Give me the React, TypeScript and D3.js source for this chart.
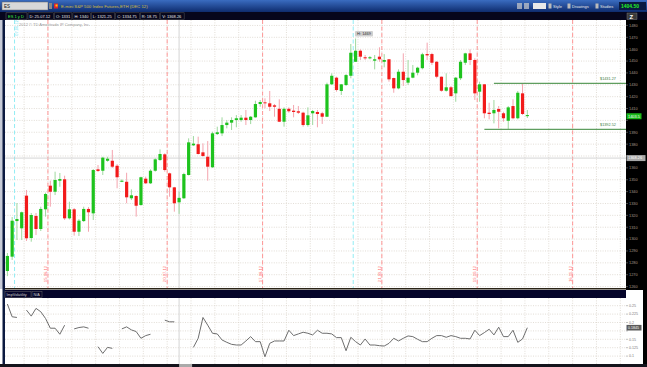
import * as d3 from "d3";
import React from "react";

// ES daily candles, Jun 5 2012 onwards (one slot per weekday)
const startDay = "2012-06-05";
const slotCount = 130;

const opens = [1273.1, 1285.2, 1315.2, 1309.1, 1336.6, 1300.9, 1319.5, 1308.5, 1325.1, 1345.0,
  1339.9, 1349.2, 1350.4, 1317.5, 1325.1, 1306.2, 1315.2, 1325.4, 1321.7, 1358.8,
  1357.6, 1366.0, 1366.0, 1361.8, 1348.3, 1348.3, 1334.4, 1336.3, 1328.7, 1350.9,
  1347.0, 1357.6, 1366.6, 1371.4, 1355.4, 1343.6, 1331.0, 1334.4, 1354.0, 1379.0,
  1379.9, 1373.1, 1369.4, 1360.5, 1388.5, 1389.1, 1396.1, 1398.1, 1400.3, 1400.3,
  1402.3, 1400.3, 1402.6, 1413.8, 1415.2, 1414.4, 1412.7, 1409.8, 1398.9, 1409.8,
  1408.2, 1407.7, 1406.5, 1396.1, 1406.0, 1407.1, 1406.0, 1403.1, 1430.4, 1436.0,
  1424.8, 1429.8, 1437.6, 1449.4, 1458.7, 1453.2, 1452.3, 1450.3, 1453.7, 1449.4,
  1451.5, 1435.7, 1427.0, 1441.0, 1431.8, 1436.0, 1440.2, 1444.0, 1455.9, 1455.9,
  1449.4, 1436.8, 1425.0, 1427.9, 1422.8, 1435.5, 1448.6, 1456.5, 1450.9, 1424.2,
  1430.4, 1406.5, 1406.0, 1409.6, 1406.0, 1399.7, 1412.1, 1401.8, 1422.8, 1403.6];

const highs = [1288.3, 1318.6, 1330.4, 1323.2, 1341.4, 1322.0, 1322.0, 1327.3, 1339.1, 1349.2,
  1356.8, 1355.7, 1353.4, 1331.5, 1326.2, 1316.9, 1327.3, 1327.0, 1359.0, 1362.4,
  1369.4, 1369.4, 1375.1, 1363.2, 1350.4, 1355.9, 1341.9, 1337.0, 1352.6, 1352.6,
  1358.8, 1368.1, 1375.6, 1372.3, 1356.0, 1344.0, 1340.0, 1355.9, 1384.9, 1386.8,
  1386.3, 1380.7, 1382.6, 1390.5, 1394.7, 1402.6, 1400.3, 1402.6, 1404.5, 1404.5,
  1408.8, 1403.7, 1416.6, 1417.2, 1418.6, 1424.8, 1413.8, 1417.8, 1411.0, 1411.0,
  1413.0, 1412.1, 1407.3, 1411.0, 1408.8, 1408.8, 1407.3, 1431.8, 1439.7, 1436.8,
  1430.7, 1439.1, 1464.4, 1469.0, 1459.9, 1455.1, 1454.2, 1455.1, 1461.6, 1455.9,
  1451.7, 1436.0, 1443.0, 1456.5, 1450.9, 1446.7, 1445.2, 1457.0, 1465.5, 1457.0,
  1450.0, 1437.0, 1439.7, 1429.0, 1436.6, 1450.9, 1457.0, 1459.9, 1452.3, 1432.6,
  1430.7, 1414.9, 1417.2, 1412.1, 1407.3, 1412.1, 1417.8, 1424.8, 1431.27, 1408.8];

const lows = [1268.8, 1282.4, 1299.2, 1299.2, 1298.4, 1297.8, 1303.4, 1306.8, 1318.9, 1327.3,
  1337.1, 1344.1, 1316.1, 1316.5, 1302.9, 1302.6, 1314.4, 1306.2, 1316.1, 1356.5,
  1354.0, 1365.2, 1359.9, 1342.8, 1348.0, 1330.2, 1332.9, 1318.9, 1328.1, 1346.4,
  1346.4, 1356.8, 1366.0, 1356.8, 1335.7, 1323.1, 1321.25, 1333.8, 1353.6, 1378.4,
  1371.3, 1369.4, 1349.2, 1360.0, 1387.7, 1386.8, 1393.3, 1391.9, 1394.2, 1398.9,
  1396.1, 1396.9, 1402.3, 1411.5, 1410.2, 1407.9, 1403.1, 1398.6, 1394.7, 1406.5,
  1402.6, 1405.4, 1394.7, 1394.7, 1396.1, 1394.2, 1397.0, 1402.8, 1429.8, 1424.2,
  1421.4, 1429.0, 1435.5, 1449.2, 1450.9, 1450.9, 1451.5, 1443.0, 1449.4, 1444.7,
  1432.6, 1423.3, 1426.2, 1429.0, 1429.8, 1435.5, 1438.0, 1443.0, 1450.9, 1446.7,
  1435.5, 1424.2, 1424.2, 1420.0, 1415.7, 1434.0, 1446.7, 1446.7, 1417.2, 1415.7,
  1401.8, 1400.9, 1397.5, 1393.3, 1398.9, 1392.52, 1400.9, 1400.9, 1404.5, 1402.0];

const closes = [1285.8, 1315.5, 1316.9, 1322.6, 1300.7, 1320.3, 1308.5, 1325.4, 1338.0, 1339.9,
  1349.8, 1350.6, 1317.5, 1325.1, 1306.2, 1315.5, 1325.4, 1322.6, 1358.2, 1357.4,
  1368.6, 1367.7, 1361.0, 1352.1, 1349.2, 1335.2, 1336.9, 1328.1, 1352.1, 1347.0,
  1357.6, 1367.2, 1371.7, 1358.2, 1343.6, 1330.2, 1334.75, 1354.8, 1381.5, 1380.4,
  1371.7, 1370.0, 1361.0, 1389.1, 1390.0, 1396.1, 1398.1, 1400.3, 1401.8, 1402.3,
  1400.3, 1403.1, 1413.8, 1415.5, 1414.4, 1411.5, 1411.5, 1398.9, 1409.8, 1407.7,
  1407.1, 1406.5, 1396.1, 1404.3, 1407.9, 1405.4, 1403.1, 1430.4, 1437.6, 1425.6,
  1430.4, 1438.2, 1457.0, 1458.7, 1453.7, 1452.3, 1453.2, 1451.5, 1451.5, 1450.9,
  1434.6, 1427.0, 1441.0, 1434.0, 1436.0, 1440.2, 1444.4, 1455.7, 1454.8, 1448.6,
  1436.8, 1425.0, 1427.9, 1420.5, 1436.0, 1449.4, 1456.5, 1450.9, 1422.8, 1430.4,
  1406.0, 1405.4, 1408.8, 1407.3, 1401.8, 1411.0, 1401.8, 1423.3, 1405.4, 1404.5];

// implied volatility study (null = no value)
const impVol = [0.255, 0.217, 0.215, null, 0.237, 0.219, 0.242, 0.232, 0.212, 0.183,
  0.183, 0.165, 0.192, null, 0.181, 0.185, 0.187, 0.183, null, 0.128,
  0.108, 0.126, 0.123, null, 0.181, 0.187, 0.178, 0.173, 0.153, 0.161,
  0.165, null, null, 0.207, 0.202, 0.202, null, null, null, 0.126,
  0.153, 0.215, 0.192, 0.168, 0.166, 0.148, 0.141, 0.135, 0.133, 0.133,
  0.145, 0.158, 0.143, 0.143, 0.098, 0.138, 0.145, 0.145, 0.145, 0.177,
  0.161, 0.166, 0.171, 0.168, 0.163, 0.177, 0.168, 0.168, 0.166, 0.155,
  0.155, 0.116, 0.156, 0.143, 0.133, 0.151, 0.133, 0.133, 0.131, 0.130,
  0.138, 0.153, 0.145, 0.153, 0.160, 0.158, 0.150, 0.143, 0.143, 0.153,
  0.161, 0.161, 0.156, 0.161, 0.158, 0.153, 0.153, 0.151, 0.177, 0.161,
  0.170, 0.180, 0.163, 0.186, 0.158, 0.158, 0.177, 0.141, 0.151, 0.1845];

const priceTicks = [1480, 1470, 1460, 1450, 1440, 1430, 1420, 1410, 1400, 1390, 1380, 1370,
  1360, 1350, 1340, 1330, 1320, 1310, 1300, 1290, 1280, 1270, 1260];
const volTicks = [0.25, 0.225, 0.2, 0.175, 0.15, 0.125, 0.1];

const expiryDays = ["15.06.12", "20.07.12", "17.08.12", "21.09.12", "19.10.12", "16.11.12"];
const eventDays = ["07.06.12", "14.09.12"];
const cursorDay = "25.07.12";
const levelUpper = { price: 1431.27, from: "25.10.12" };
const levelLower = { price: 1392.52, from: "23.10.12" };
const markPrice = 1368.26;
const lastPrice = 1403.5;
const lastVol = 0.1845;

const infoItems = ["D: 25.07.12", "O: 1331", "H: 1340", "L: 1321.25", "C: 1334.75", "R: 18.75", "V: 1368.26"];

const parseIso = d3.timeParse("%Y-%m-%d");
const parseDay = d3.timeParse("%d.%m.%y");
const fmtDay = d3.timeFormat("%d.%m.%y");

const days: Date[] = [];
for (let d = parseIso(startDay)!; days.length < slotCount; d = d3.timeDay.offset(d, 1)) {
  if (d.getDay() !== 0 && d.getDay() !== 6) days.push(d);
}
const dayIndex = (s: string) => days.findIndex((d) => fmtDay(d) === s);
const nextIndex = (s: string) => {
  const t = parseDay(s)!.getTime();
  return days.findIndex((d) => d.getTime() > t);
};

const FONT = "Liberation Sans, Arial, sans-serif";

export default function App() {
  const W = 647, H = 367;
  const left = 5, right = 626, top = 20, bottom = 289;
  const vTop = 298, vBottom = 364;

  const x = d3.scaleBand<number>().domain(d3.range(slotCount)).range([left, left + slotCount * 4.77]);
  const bw = x.bandwidth();
  const cx = (i: number) => (x(i) as number) + bw / 2;
  const y = d3.scaleLinear().domain([1257.95, 1484.6]).range([bottom, top]);
  const yv = d3.scaleLinear().domain([0.0765, 0.2729]).range([vBottom, vTop]);

  const mondays = days.map((d, i) => (d.getDay() === 1 ? i : -1)).filter((i) => i > 0);
  const volLine = d3.line<number | null>()
    .defined((v) => v != null)
    .x((_, i) => cx(i))
    .y((v) => yv(v as number));

  const grid = { stroke: "#d6cec4", strokeWidth: 0.7, strokeDasharray: "1 1.4" };
  const cursorX = cx(dayIndex(cursorDay));

  // axis labels hidden behind the price / value flags
  const shownPrice = priceTicks.filter(
    (p) => Math.abs(y(p) - y(markPrice)) > 4.5 && Math.abs(y(p) - y(lastPrice)) > 4.5
  );
  const shownVol = volTicks.filter((v) => Math.abs(yv(v) - yv(lastVol)) > 4.5);

  return (
    <div style={{ position: "absolute", left: 0, top: 0 }}>
      <svg width={W} height={H} style={{ display: "block", fontFamily: FONT }}>
        <defs>
          <linearGradient id="topbar" x1="0" y1="0" x2="0" y2="1">
            <stop offset="0" stopColor="#3a6cc0" />
            <stop offset="1" stopColor="#0e2c6e" />
          </linearGradient>
          <clipPath id="mainClip"><rect x={left} y={top} width={right - left} height={bottom - top} /></clipPath>
          <clipPath id="volClip"><rect x={left} y={vTop} width={right - left} height={vBottom - vTop} /></clipPath>
        </defs>

        {/* header bars */}
        <rect x={0} y={0} width={W} height={12} fill="url(#topbar)" />
        <rect x={2} y={2} width={46} height={8} fill="#d8d8d8" stroke="#666" strokeWidth={0.5} />
        <text x={4} y={8} fontSize={4.5} fill="#111">ES</text>
        <rect x={49} y={3} width={3} height={6} fill="#888" />
        <rect x={54} y={3.5} width={4} height={5} fill="#d23" />
        <rect x={55.5} y={4.5} width={2} height={2} fill="#fc0" />
        <text x={61} y={8} fontSize={4.3} fill="#d6be3e">E-mini S&amp;P 500 Index Futures,ETH (DEC 12)</text>
        <rect x={517} y={3} width={5} height={6} fill="#ccc" opacity={0.7} />
        <rect x={524} y={3} width={5} height={6} fill="#ccc" opacity={0.7} />
        <rect x={533} y={3} width={13} height={6} fill="#e8e8e8" />
        {[{ t: "Style", x: 553 }, { t: "Drawings", x: 572 }, { t: "Studies", x: 600 }].map((b) => (
          <g key={b.t}>
            <rect x={b.x - 4.5} y={3.5} width={3} height={5} fill="#bbb" />
            <text x={b.x} y={8} fontSize={4} fill="#e6e6e6">{b.t}</text>
          </g>
        ))}
        <rect x={619} y={2} width={27} height={8} fill="#0a1a40" />
        <text x={621} y={8.3} fontSize={5} fontWeight="bold" fill="#22f022">1404.50</text>

        <rect x={0} y={12} width={W} height={8} fill="#06061c" />
        <rect x={6} y={12.8} width={21} height={6.4} fill="none" stroke="#666" strokeWidth={0.5} />
        <text x={8} y={17.6} fontSize={4} fill="#3ef03e">ES 1 y D</text>
        {(() => {
          let xx = 28;
          return infoItems.map((t) => {
            const w = t.length * 2.05 + 3;
            const el = (
              <g key={t}>
                <rect x={xx} y={12.8} width={w} height={6.4} fill="none" stroke="#555" strokeWidth={0.5} />
                <text x={xx + 1.5} y={17.6} fontSize={4} fill="#e8e8e8">{t}</text>
              </g>
            );
            xx += w + 1;
            return el;
          });
        })()}
        <rect x={627} y={13} width={10} height={6.5} fill="#3a3a3a" stroke="#888" strokeWidth={0.4} />
        <text x={629.5} y={18.6} fontSize={6} fontWeight="bold" fill="#fff">Z</text>

        {/* main panel */}
        <rect x={0} y={top} width={left} height={bottom - top} fill="#c8ccd8" />
        <rect x={2.5} y={top} width={2.5} height={H - top} fill="#0c1a40" />
        <rect x={left} y={top} width={right - left} height={bottom - top} fill="#fff" />
        <g clipPath="url(#mainClip)">
          {priceTicks.map((p) => (
            <line key={p} x1={left} x2={right} y1={y(p)} y2={y(p)} {...grid} />
          ))}
          {mondays.map((i) => (
            <line key={i} x1={x(i)} x2={x(i)} y1={top} y2={bottom} {...grid} />
          ))}
          <text x={19} y={25.5} fontSize={4} fill="#9a9a9a">2012 © TD Ameritrade IP Company, Inc.</text>
          {expiryDays.map((s) => {
            const xx = x(nextIndex(s)) as number;
            return (
              <g key={s}>
                <line x1={xx} x2={xx} y1={top} y2={bottom} stroke="#ff8c8c" strokeWidth={0.9} strokeDasharray="4 2.5" />
                <text transform={`translate(${xx - 1},274) rotate(-90)`} textAnchor="middle" fontSize={4.2} fill="#ff7070">{s}</text>
              </g>
            );
          })}
          {eventDays.map((s) => {
            const xx = x(dayIndex(s)) as number;
            return <line key={s} x1={xx} x2={xx} y1={top} y2={bottom} stroke="#86eaf2" strokeWidth={0.9} strokeDasharray="4 2.5" />;
          })}
          <text transform={`translate(${(x(dayIndex(eventDays[0])) as number) + 3.5},28) rotate(-90)`} textAnchor="middle" fontSize={4} fill="#6ee0ee">{eventDays[0]}</text>
          <line x1={left} x2={right} y1={y(markPrice)} y2={y(markPrice)} stroke="#cfcfcf" strokeWidth={0.9} />
          <line x1={cursorX} x2={cursorX} y1={top} y2={bottom} stroke="#cfcfcf" strokeWidth={0.9} />

          {opens.map((o, i) => {
            const c = closes[i];
            const up = c >= o;
            const xc = cx(i);
            const y0 = y(Math.max(o, c));
            const h = Math.max(0.8, y(Math.min(o, c)) - y0);
            return (
              <g key={i}>
                <line x1={xc} x2={xc} y1={y(highs[i])} y2={y(lows[i])} stroke={up ? "#9ed89e" : "#f4a4ae"} strokeWidth={1} />
                <rect x={xc - 1.6} y={y0} width={3.2} height={h} fill={up ? "#1ec31e" : "#f21a1a"} />
              </g>
            );
          })}

          {[levelUpper, levelLower].map((l) => {
            const x1 = cx(dayIndex(l.from));
            return (
              <g key={l.price}>
                <line x1={x1} x2={right} y1={y(l.price)} y2={y(l.price)} stroke="#5f9e5f" strokeWidth={1.3} />
                <text x={600} y={y(l.price) - 3} fontSize={3.8} fill="#3d7a3d">${l.price.toFixed(2)}</text>
              </g>
            );
          })}
          <rect x={355} y={31} width={18} height={5.5} rx={1} fill="#cfcfcf" />
          <text x={357} y={35.2} fontSize={4} fill="#333">H: {d3.max(highs)}</text>
        </g>
        <rect x={left} y={bottom - 1} width={right - left} height={1.5} fill="#2a2418" />

        {/* price axis */}
        <rect x={right} y={top} width={W - right} height={bottom - top + 1} fill="#000" />
        {priceTicks.map((p) => (
          <line key={p} x1={right} x2={right + 2} y1={y(p)} y2={y(p)} stroke="#777" strokeWidth={0.6} />
        ))}
        {shownPrice.map((p) => (
          <text key={p} x={629} y={y(p) + 1.4} fontSize={3.9} fill="#a49a88">{p}</text>
        ))}
        <rect x={right + 0.5} y={y(markPrice) - 3} width={19} height={6} fill="#a8a8a8" />
        <text x={628} y={y(markPrice) + 1.4} fontSize={3.9} fill="#fff">{markPrice}</text>
        <rect x={right + 0.5} y={y(lastPrice) - 3} width={15} height={6} fill="#19b919" />
        <text x={628} y={y(lastPrice) + 1.4} fontSize={3.9} fill="#fff">{lastPrice}</text>

        {/* study panel */}
        <rect x={left} y={290} width={right - left} height={8} fill="#05052a" />
        <rect x={5} y={291.5} width={26} height={6} fill="none" stroke="#666" strokeWidth={0.5} />
        <text x={6.5} y={296} fontSize={3.8} fill="#ccc">ImpVolatility</text>
        <rect x={32} y={291.5} width={10} height={6} fill="none" stroke="#666" strokeWidth={0.5} />
        <text x={33.5} y={296} fontSize={3.8} fill="#ccc">N/A</text>
        <rect x={left} y={vTop} width={right - left} height={vBottom - vTop} fill="#fff" />
        <g clipPath="url(#volClip)">
          {volTicks.map((v) => (
            <line key={v} x1={left} x2={right} y1={yv(v)} y2={yv(v)} {...grid} />
          ))}
          {mondays.map((i) => (
            <line key={i} x1={x(i)} x2={x(i)} y1={vTop} y2={vBottom} {...grid} />
          ))}
          <line x1={cursorX} x2={cursorX} y1={vTop} y2={vBottom} stroke="#cfcfcf" strokeWidth={0.9} />
          <path d={volLine(impVol) || ""} fill="none" stroke="#6e6e6e" strokeWidth={1} />
        </g>
        <rect x={right} y={290} width={17} height={vBottom - 290} fill="#fff" />
        {volTicks.map((v) => (
          <line key={v} x1={right} x2={right + 2} y1={yv(v)} y2={yv(v)} stroke="#999" strokeWidth={0.6} />
        ))}
        {shownVol.map((v) => (
          <text key={v} x={629} y={yv(v) + 1.3} fontSize={3.6} fill="#777">{v}</text>
        ))}
        <rect x={right + 0.5} y={yv(lastVol) - 2.8} width={15} height={5.6} fill="#5a5a5a" />
        <text x={628} y={yv(lastVol) + 1.3} fontSize={3.6} fill="#fff">{lastVol}</text>
        <rect x={643} y={290} width={4} height={H - 290} fill="#000" />
        <rect x={0} y={vBottom} width={W} height={H - vBottom} fill="#14141c" />
        <rect x={cursorX} y={vBottom} width={13} height={3} fill="#aaa" />
      </svg>
    </div>
  );
}
